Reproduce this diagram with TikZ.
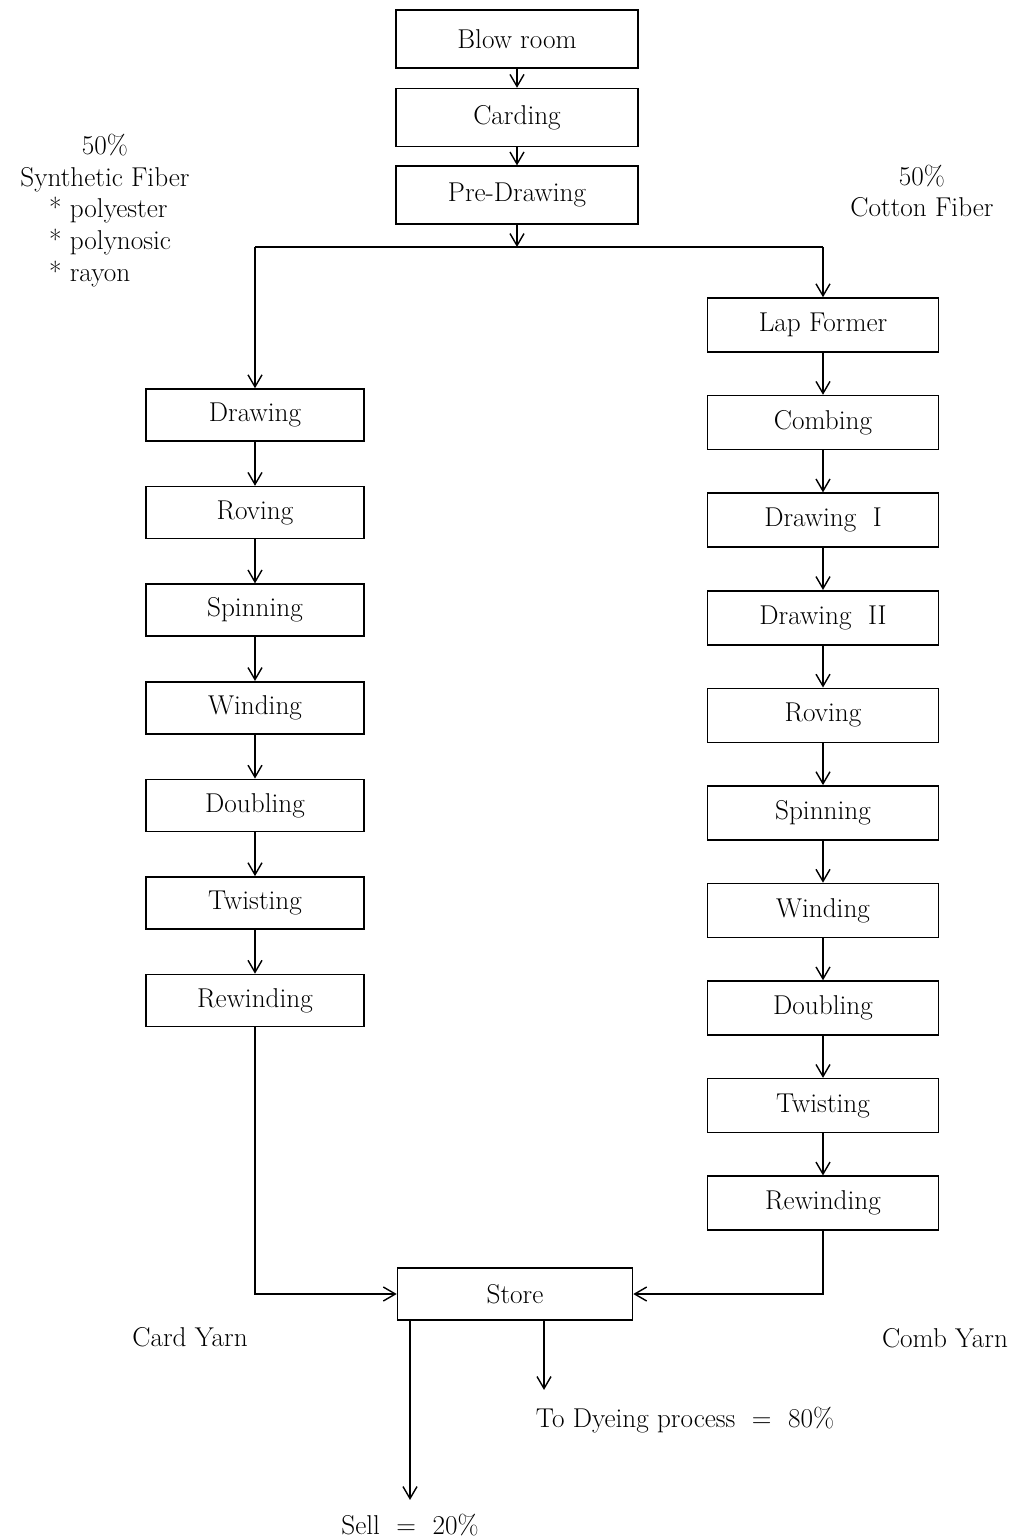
\documentclass[tikz,border=0pt]{standalone}
\usepackage{tikz}
\usetikzlibrary{arrows.meta, positioning}
\newcommand{\yarnfont}{\fontsize{15.5}{18}\selectfont}
\tikzset{
    box/.style={draw, line width=0.9pt, minimum width=4.36cm, minimum height=1.04cm,
                font=\yarnfont, inner sep=2pt},
    topbox/.style={box, minimum width=4.84cm, minimum height=1.16cm},
    combbox/.style={box, minimum width=4.62cm, minimum height=1.08cm},
    storebox/.style={box, minimum width=4.7cm},
    arrow/.style={-{Straight Barb[length=2.4mm, width=2.8mm]}, line width=0.8pt},
    lbl/.style={font=\yarnfont, align=center, inner sep=1pt},
}

\begin{document}
\begin{tikzpicture}[node distance=0.88cm]
    \useasboundingbox (0,0) rectangle (20.42,-30.8);
    \node[topbox] (blow) at (10.34,-0.78) {Blow room};
    \node[topbox, below=0.38cm of blow] (card) {Carding};
    \node[topbox, below=0.36cm of card] (pre) {Pre-Drawing};
    \coordinate[below=0.44cm of pre.south] (split);
    \node[lbl] (synth) at (2.1,-3.26) {50\%\\Synthetic Fiber};
    \node[lbl, align=left, anchor=west] (kinds) at (0.94,-4.84) {* polyester\\* polynosic\\* rayon};
    \node[lbl] (cotton) at (18.44,-3.82) {50\%\\Cotton Fiber};
    % card yarn line
    \node[box] (drawL) at (5.1,-8.3) {Drawing};
    \node[box, below=of drawL] (rovL) {Roving};
    \node[box, below=of rovL] (spinL) {Spinning};
    \node[box, below=of spinL] (windL) {Winding};
    \node[box, below=of windL] (doubL) {Doubling};
    \node[box, below=of doubL] (twistL) {Twisting};
    \node[box, below=of twistL] (rewL) {Rewinding};
    % comb yarn line
    \node[combbox] (lap) at (16.46,-6.5) {Lap Former};
    \node[combbox, below=0.84cm of lap] (comb) {Combing};
    \node[combbox, below=0.84cm of comb] (drawA) {Drawing~~I};
    \node[combbox, below=0.84cm of drawA] (drawB) {Drawing~~II};
    \node[combbox, below=0.84cm of drawB] (rovR) {Roving};
    \node[combbox, below=0.84cm of rovR] (spinR) {Spinning};
    \node[combbox, below=0.84cm of spinR] (windR) {Winding};
    \node[combbox, below=0.84cm of windR] (doubR) {Doubling};
    \node[combbox, below=0.84cm of doubR] (twistR) {Twisting};
    \node[combbox, below=0.84cm of twistR] (rewR) {Rewinding};
    \node[storebox] (store) at (10.3,-25.88) {Store};
    \node[lbl] (cardyarn) at (3.8,-26.74) {Card Yarn};
    \node[lbl] (combyarn) at (18.9,-26.76) {Comb Yarn};
    \node[lbl] (dye) at (13.7,-28.4) {To Dyeing process \ = \ 80\%};
    \node[lbl] (sell) at (8.2,-30.5) {Sell \ = \ 20\%};
    \coordinate (splitL) at (drawL.north |- split);
    \coordinate (splitR) at (lap.north |- split);
    \coordinate (dyeout) at ([xshift=0.58cm]store.south);
    \coordinate (sellout) at (sell.north |- store.south);

    \draw[arrow] (blow) -- (card);
    \draw[arrow] (card) -- (pre);
    \draw[arrow] (pre) -- (split);
    \draw[line width=0.8pt] (splitL) -- (splitR);
    \draw[arrow] (splitL) -- (drawL);
    \draw[arrow] (splitR) -- (lap);
    \draw[arrow] (drawL) -- (rovL);
    \draw[arrow] (rovL) -- (spinL);
    \draw[arrow] (spinL) -- (windL);
    \draw[arrow] (windL) -- (doubL);
    \draw[arrow] (doubL) -- (twistL);
    \draw[arrow] (twistL) -- (rewL);
    \draw[arrow] (lap) -- (comb);
    \draw[arrow] (comb) -- (drawA);
    \draw[arrow] (drawA) -- (drawB);
    \draw[arrow] (drawB) -- (rovR);
    \draw[arrow] (rovR) -- (spinR);
    \draw[arrow] (spinR) -- (windR);
    \draw[arrow] (windR) -- (doubR);
    \draw[arrow] (doubR) -- (twistR);
    \draw[arrow] (twistR) -- (rewR);
    \draw[arrow] (rewL.south) |- (store.west);
    \draw[arrow] (rewR.south) |- (store.east);
    \draw[arrow, shorten >=0.3cm] (dyeout) -- (dyeout |- dye.north);
    \draw[arrow, shorten >=0.24cm] (sellout) -- (sell.north);
\end{tikzpicture}
\end{document}
